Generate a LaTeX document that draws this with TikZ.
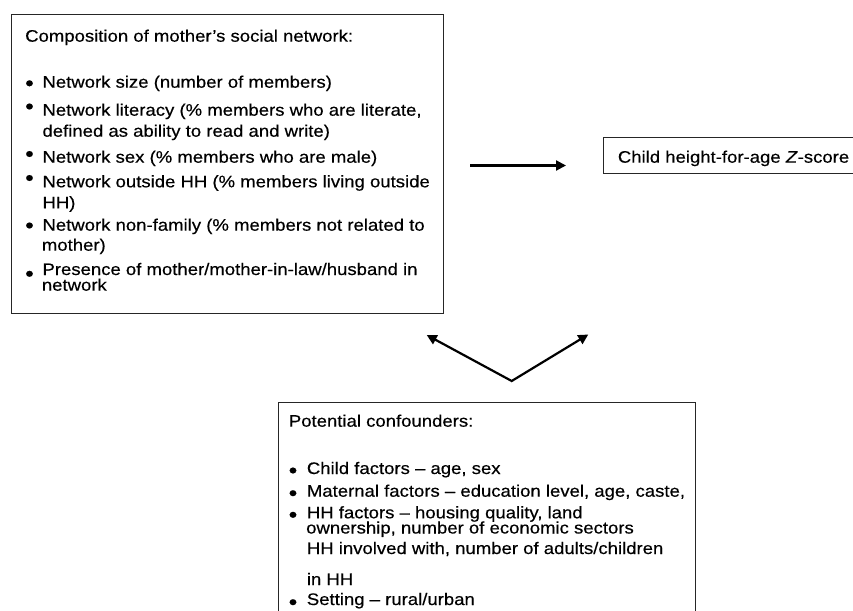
\documentclass[tikz,border=0pt]{standalone}
\usepackage{fontspec}
\setmainfont{Liberation Sans}[FakeStretch=1.11,FakeBold=0.4]
\usetikzlibrary{arrows.meta}
\begin{document}
\begin{tikzpicture}[x=1pt,y=-1pt,
  boxline/.style={draw=black!85,line width=1.3pt,inner sep=0pt,anchor=north west},
  txt/.style={anchor=base west,inner sep=0pt,font=\fontsize{16.7}{20}\selectfont},
  bul/.style={anchor=base,inner sep=0pt,font=\fontsize{22}{24}\selectfont},
  conn/.style={line width=2.2pt,line join=miter}]
\useasboundingbox (0,0) rectangle (853,610);
\clip (0,0) rectangle (853,610);
% boxes
\node[boxline,minimum width=432pt,minimum height=299pt] (net) at (11,14) {};
\node[boxline,minimum width=270pt,minimum height=36pt] (outc) at (603,137) {};
\node[boxline,minimum width=417.5pt,minimum height=240pt] (conf) at (277.5,401.5) {};
% box 1 text
\node[txt] (n0) at (25,41.7) {Composition of mother’s social network:};
\node[txt] (n1) at (42.3,87.7) {Network size (number of members)};
\node[txt] (n2) at (42.3,115.7) {Network literacy (\% members who are literate,};
\node[txt] (n2b) at (42.3,136.7) {defined as ability to read and write)};
\node[txt] (n3) at (42.3,162.7) {Network sex (\% members who are male)};
\node[txt] (n4) at (42.3,187.3) {Network outside HH (\% members living outside};
\node[txt] (n4b) at (42.3,208.3) {HH)};
\node[txt] (n5) at (42.3,230.7) {Network non-family (\% members not related to};
\node[txt] (n5b) at (41.7,250.7) {mother)};
\node[txt] (n6) at (42.3,275) {Presence of mother/mother-in-law/husband in};
\node[txt] (n6b) at (41.7,290.7) {network};
% box 1 bullets
\node[bul] (b1) at (29.5,90.6) {•};
\node[bul] (b2) at (29.5,113.8) {•};
\node[bul] (b3) at (29.5,161.3) {•};
\node[bul] (b4) at (29.5,185.3) {•};
\node[bul] (b5) at (29.5,232.8) {•};
\node[bul] (b6) at (29.5,281.1) {•};
% outcome text
\node[txt] (o1) at (617.7,162.7) {Child height-for-age \textit{Z}-score};
% box 3 text
\node[txt] (c0) at (288.7,426.7) {Potential confounders:};
\node[txt] (c1) at (306.7,474) {Child factors – age, sex};
\node[txt] (c2) at (306.7,496.7) {Maternal factors – education level, age, caste,};
\node[txt] (c3) at (306.7,518.3) {HH factors – housing quality, land};
\node[txt] (c3b) at (306,533.5) {ownership, number of economic sectors};
\node[txt] (c3c) at (306.7,554) {HH involved with, number of adults/children};
\node[txt] (c3d) at (306.7,585) {in HH};
\node[txt] (c4) at (306.7,605) {Setting – rural/urban};
\node[bul] (d1) at (293,477.8) {•};
\node[bul] (d2) at (293,500.5) {•};
\node[bul] (d3) at (293,522.1) {•};
\node[bul] (d4) at (293,609.5) {•};
% connectors
\coordinate (h1) at (470,165.5);
\coordinate (h2) at (566,165.5);
\coordinate (v) at (511.7,381);
\coordinate (vl) at (426.7,335);
\coordinate (vr) at (588.3,334.5);
\draw[conn,-{Triangle[length=10pt,width=10pt]}] (h1) -- (h2);
\draw[conn,{Triangle[length=10pt,width=10pt]}-{Triangle[length=10pt,width=10pt]}] (vl) -- (v) -- (vr);
\end{tikzpicture}
\end{document}
